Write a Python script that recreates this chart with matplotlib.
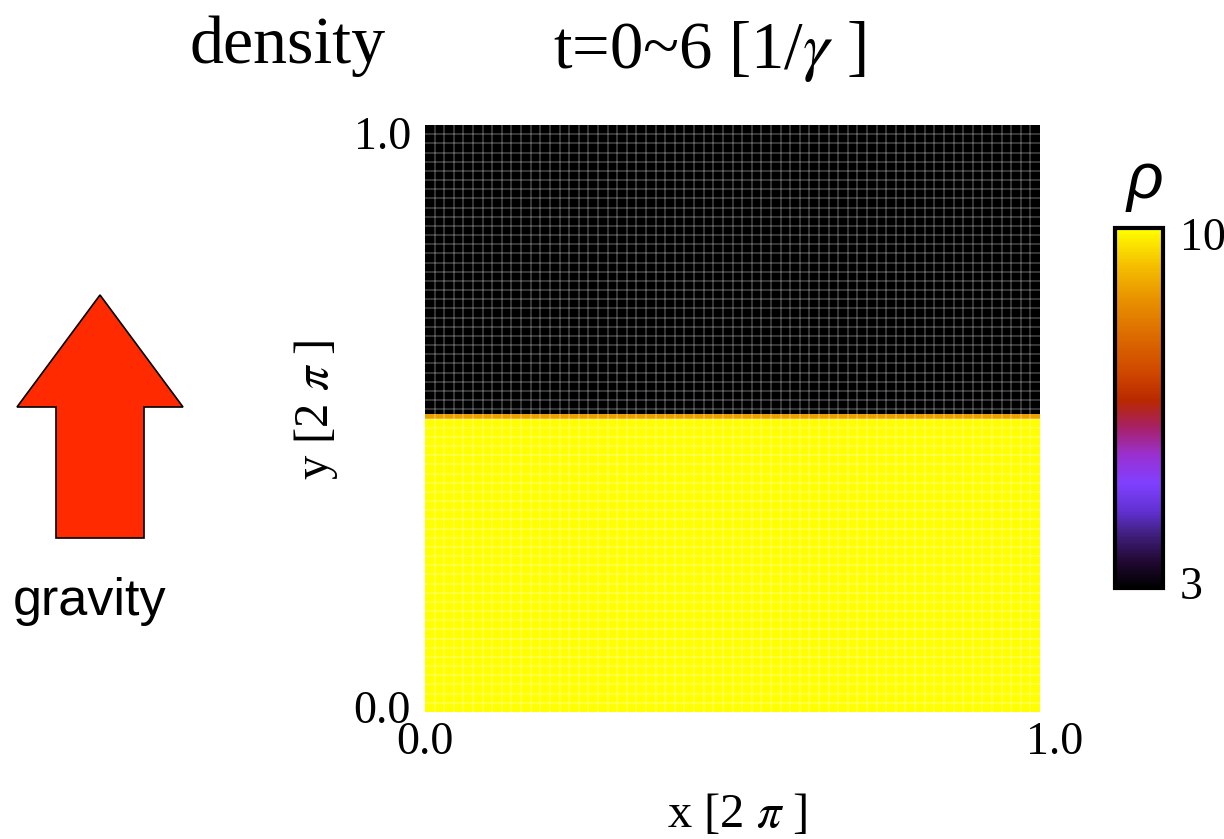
import numpy as np
import matplotlib
matplotlib.use("Agg")
import matplotlib.pyplot as plt
from matplotlib.colors import LinearSegmentedColormap
from matplotlib.patches import Polygon
from matplotlib.transforms import ScaledTranslation

plt.rcParams['font.family'] = ['Liberation Serif', 'DejaVu Serif']
plt.rcParams['mathtext.fontset'] = 'stix'

# ---------------- data ----------------
rho_lower = 10.0        # heavy fluid (bottom half)
rho_upper = 3.0         # light fluid (top half)
rho_interface = 8.8     # thin transition row just below interface
interface_y = 0.51
n_cells = 128
rho_min, rho_max = 3, 10
x_ticks = [0.0, 1.0]
x_tick_labels = ['0.0', '1.0']
y_ticks = [0.0, 1.0]
y_tick_labels = ['0.0', '1.0']
cbar_ticks = [3, 10]
cbar_tick_labels = ['3', '10']
title_left = 'density'
title_right = r't=0~6 [1/$\gamma$ ]'
x_label = r'x [2 $\pi$ ]'
y_label = r'y [2 $\pi$ ]'
cbar_label = 'ρ'
arrow_label = 'gravity'

# build field
edges = np.linspace(0, 1, n_cells + 1)
centers = 0.5 * (edges[:-1] + edges[1:])
row_vals = np.where(centers < interface_y, rho_lower, rho_upper)
below = np.where(centers < interface_y)[0]
row_vals[below[-1]] = rho_interface
field = np.repeat(row_vals[:, None], n_cells, axis=1)

# ---------------- style ----------------
cmap = LinearSegmentedColormap.from_list('sunset', [
    (0.00, '#000000'), (0.07, '#200830'), (0.15, '#402080'),
    (0.21, '#6030d0'), (0.29, '#8040ff'), (0.37, '#9a30d0'),
    (0.45, '#a82060'), (0.52, '#b82800'), (0.60, '#d04800'),
    (0.70, '#dc6a00'), (0.80, '#e89000'), (0.90, '#f5c000'),
    (1.00, '#ffff00')])

W, H = 1224, 839
fig = plt.figure(figsize=(W / 100, H / 100), dpi=100)

def fx(px):
    return px / W

def fy(py):
    return 1 - py / H

ax = fig.add_axes([fx(425), fy(712), fx(1040) - fx(425), fy(125) - fy(712)])
mesh = ax.pcolormesh(edges, edges, field, cmap=cmap, vmin=rho_min, vmax=rho_max,
                     shading='flat')
ax.set_xlim(0, 1)
ax.set_ylim(0, 1)

# mesh texture
ax.set_xticks(edges[::2], minor=True)
ax.set_yticks(edges[::2], minor=True)
ax.grid(which='minor', color='white', alpha=0.28, linewidth=1.1)
ax.set_axisbelow(False)

ax.set_xticks(x_ticks)
ax.set_xticklabels(x_tick_labels, fontsize=33)
ax.set_yticks(y_ticks)
ax.set_yticklabels(y_tick_labels, fontsize=33)
ax.tick_params(which='both', length=0)
ax.tick_params(axis='x', pad=7)
ax.tick_params(axis='y', pad=10)
for sp in ax.spines.values():
    sp.set_visible(False)

# offsets for tick labels
xl = ax.get_xticklabels()
xl[1].set_transform(xl[1].get_transform() + ScaledTranslation(0.15, 0, fig.dpi_scale_trans))
yl = ax.get_yticklabels()
yl[1].set_transform(yl[1].get_transform() + ScaledTranslation(0, -0.08, fig.dpi_scale_trans))
yl[0].set_transform(yl[0].get_transform() + ScaledTranslation(0, 0.05, fig.dpi_scale_trans))

ax.set_xlabel(x_label, fontsize=35)
ax.xaxis.set_label_coords((737 - 425) / 615, (712 - 815) / 587)
ax.xaxis.label.set_va('center')
ax.set_ylabel(y_label, fontsize=35)
ax.yaxis.set_label_coords((316 - 425) / 615, (712 - 410) / 587)
ax.yaxis.label.set_va('center')

# colorbar
cax = fig.add_axes([fx(1115), fy(588), fx(1163) - fx(1115), fy(228) - fy(588)])
cb = fig.colorbar(mesh, cax=cax, ticks=cbar_ticks)
cb.ax.set_yticklabels(cbar_tick_labels, fontsize=33)
cb.ax.tick_params(length=0, pad=12)
cb.outline.set_linewidth(3)
cyl = cb.ax.get_yticklabels()
cyl[1].set_transform(cyl[1].get_transform() + ScaledTranslation(0, -0.06, fig.dpi_scale_trans))
cyl[0].set_transform(cyl[0].get_transform() + ScaledTranslation(0, 0.05, fig.dpi_scale_trans))
fig.text(fx(1145), fy(182), cbar_label, fontsize=46, ha='center', va='center',
         family=['Liberation Sans', 'DejaVu Sans'], style='italic')

# titles
fig.text(fx(190), fy(63), title_left, fontsize=49, ha='left', va='baseline')
fig.text(fx(553), fy(68), title_right, fontsize=48, ha='left', va='baseline')

# gravity arrow
arrow_px = [(100, 295), (183, 407), (144, 407), (144, 538),
            (56, 538), (56, 407), (17, 407)]
arrow = Polygon([(fx(x), fy(y)) for x, y in arrow_px], closed=True,
                facecolor='#ff2a00', edgecolor='black', linewidth=1.2,
                transform=fig.transFigure)
fig.add_artist(arrow)
fig.text(fx(90), fy(602), arrow_label, fontsize=37.5, ha='center', va='center',
         family=['Liberation Sans', 'DejaVu Sans'])

fig.savefig('out.png', dpi=100)
